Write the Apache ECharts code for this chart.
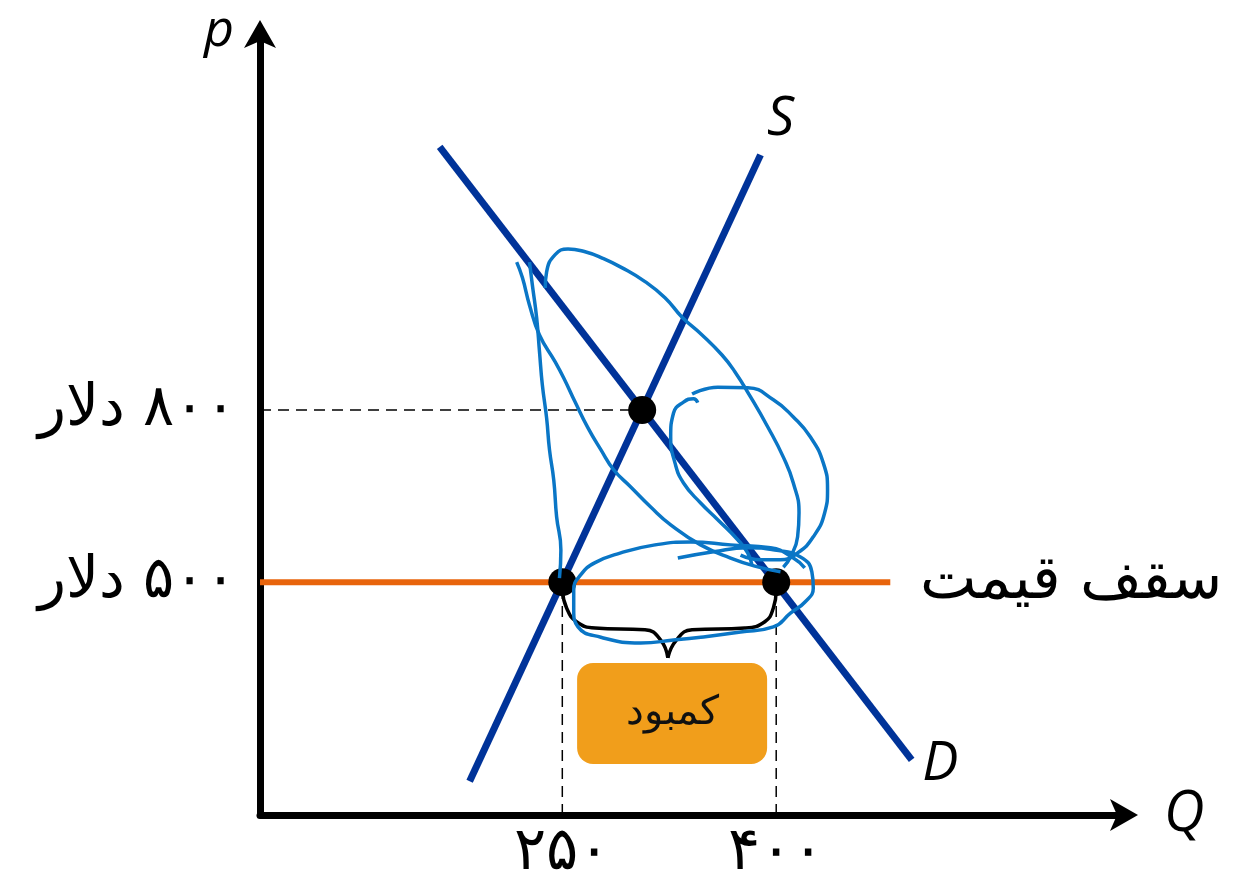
<!DOCTYPE html>
<html>
<head>
<meta charset="utf-8">
<title>سقف قیمت</title>
<script src="https://cdn.jsdelivr.net/npm/echarts@6/dist/echarts.min.js"></script>
<style>
html, body { margin: 0; padding: 0; background: #fff; }
#chart { width: 1235px; height: 873px; }
</style>
</head>
<body>
<div id="chart"></div>
<script>
// axis ranges: Q (horizontal) and P (vertical)
var qRange = [38, 646];
var pRange = [94, 1461];

// tick labels
var qTicks = [250, 400];
var qTickLabels = ['۲۵۰', '۴۰۰'];
var pTicks = [500, 800];
var pTickLabels = ['۵۰۰ دلار', '۸۰۰ دلار'];

// supply / demand curves and the price ceiling
var supply = [[185, 153], [389, 1245]];
var demand = [[164, 1259], [495, 190]];
var ceiling = [[38, 500], [480, 500]];
var ceilingName = 'سقف قیمت';
var equilibrium = [306, 800];
var ceilingPoints = [[250, 500], [400, 500]];

// curve names
var curveNames = ['S', 'D'];
var curveNamePos = [[403, 1306], [515, 181]];

// shortage brace and box
var braceLeft = [[250, 486], [253, 455], [260, 431], [273, 420], [308, 417], [319, 399], [324, 368]];
var braceRight = [[324, 368], [330, 399], [341, 417], [378, 420], [392, 431], [398, 455], [400, 486]];
var shortageName = 'کمبود';
var shortagePos = [327, 271];

// hand drawn scribble, one array per stroke
var stroke1 = [[227, 1058], [229, 1018], [232, 961], [234, 902], [236, 844], [239, 786], [241, 731], [244, 678], [246, 614], [249, 556], [248, 507]];
var stroke2 = [[218, 1058], [222, 1031], [227, 983], [234, 931], [245, 884], [251, 856], [259, 814], [268, 769], [277, 731], [286, 696], [298, 666], [312, 631], [326, 600], [347, 565], [368, 542], [385, 528], [403, 518]];
var stroke3 = [[238, 1013], [239, 1041], [245, 1071], [254, 1081], [266, 1076], [278, 1065], [292, 1048], [308, 1024], [322, 996], [334, 962], [348, 931], [362, 896], [371, 867], [382, 823], [394, 771], [405, 718], [412, 673], [416, 621], [415, 579], [410, 544], [405, 526]];
var stroke4 = [[341, 828], [359, 840], [380, 839], [398, 818], [412, 788], [424, 753], [433, 708], [436, 661], [434, 621], [426, 579], [415, 551], [403, 539], [389, 539], [375, 547]];
var stroke5 = [[345, 813], [342, 820], [335, 814], [328, 795], [326, 753], [329, 708], [335, 673], [347, 638], [359, 609], [373, 574], [380, 551], [383, 530]];
var stroke6 = [[331, 542], [356, 553], [380, 560], [399, 556], [417, 544], [425, 518], [426, 490], [420, 465], [410, 446], [398, 422], [375, 413], [347, 404], [328, 399], [305, 394], [277, 404], [261, 422], [258, 452], [258, 486], [263, 513], [273, 534], [291, 551], [315, 565], [340, 570], [368, 565], [396, 560], [412, 542], [420, 525]];

var textFont = "'DejaVu Sans', sans-serif";
var letterFont = "'Open Sans', 'DejaVu Sans', sans-serif";

function plainLine(data, color, width, extra) {
    var s = {
        type: 'line',
        data: data,
        showSymbol: false,
        silent: true,
        lineStyle: { color: color, width: width },
        z: 2
    };
    for (var k in extra) s[k] = extra[k];
    return s;
}

var chart = echarts.init(document.getElementById('chart'));

var dashed = { color: '#000', width: 1.5, type: [11, 7] };
var series = [];
// dashed guide lines
series.push(plainLine([[qRange[0], equilibrium[1]], equilibrium], '#000', 1.5, { lineStyle: dashed }));
ceilingPoints.forEach(function (pt) {
    series.push(plainLine([[pt[0], pRange[0]], pt], '#000', 1.5, { lineStyle: dashed }));
});
// supply and demand
series.push(plainLine(supply, '#003399', 7, { z: 3 }));
series.push(plainLine(demand, '#003399', 7, { z: 3 }));
// price ceiling
series.push(plainLine(ceiling, '#E8640C', 6, {
    z: 4,
    endLabel: {
        show: true,
        formatter: ceilingName,
        distance: 30,
        fontFamily: textFont,
        fontWeight: 200,
        fontSize: 60,
        color: '#000'
    }
}));
// brace
series.push(plainLine(braceLeft, '#000', 3.5, { smooth: 0.5, z: 4 }));
series.push(plainLine(braceRight, '#000', 3.5, { smooth: 0.5, z: 4 }));
// points
series.push({
    type: 'scatter',
    data: [equilibrium].concat(ceilingPoints),
    symbolSize: 28,
    itemStyle: { color: '#000', opacity: 1 },
    silent: true,
    z: 6
});
// shortage box
series.push({
    type: 'scatter',
    data: [shortagePos],
    symbolSize: 2,
    itemStyle: { color: '#F19E1B', opacity: 1 },
    silent: true,
    z: 5,
    label: {
        show: true,
        position: 'inside',
        formatter: shortageName,
        backgroundColor: '#F19E1B',
        borderRadius: 16,
        width: 190,
        height: 101,
        lineHeight: 101,
        align: 'center',
        verticalAlign: 'middle',
        fontFamily: textFont,
        fontWeight: 200,
        fontSize: 40,
        color: '#111'
    }
});
// S and D names
series.push({
    type: 'scatter',
    data: curveNamePos.map(function (p, i) { return { value: p, name: curveNames[i] }; }),
    symbolSize: 0,
    itemStyle: { color: '#000', opacity: 1 },
    silent: true,
    label: {
        show: true,
        position: 'inside',
        formatter: '{b}',
        fontFamily: letterFont,
        fontStyle: 'italic',
        fontWeight: 400,
        fontSize: 54,
        color: '#000'
    }
});
// scribble
[stroke1, stroke2, stroke3, stroke4, stroke5, stroke6].forEach(function (s) {
    series.push(plainLine(s, '#0A76C6', 3.5, { smooth: 0.5, z: 8 }));
});

var axisLine = {
    onZero: false,
    lineStyle: { color: '#000', width: 7 },
    symbol: ['none', 'arrow'],
    symbolSize: [24, 28],
    symbolOffset: [0, 11]
};

chart.setOption({
    animation: false,
    backgroundColor: '#fff',
    grid: { left: 260, right: 108, top: 31, bottom: 58, containLabel: false, outerBoundsMode: 'none' },
    xAxis: {
        type: 'value',
        min: qRange[0],
        max: qRange[1],
        name: 'Q',
        nameLocation: 'end',
        nameGap: 37,
        nameTextStyle: { fontFamily: letterFont, fontStyle: 'italic', fontWeight: 400, fontSize: 56, color: '#000', align: 'left', verticalAlign: 'middle' },
        splitLine: { show: false },
        axisTick: { show: false },
        axisLine: axisLine,
        axisLabel: {
            customValues: qTicks,
            formatter: function (v) { return qTickLabels[qTicks.indexOf(v)]; },
            margin: 8,
            fontFamily: textFont,
            fontWeight: 200,
            fontSize: 60,
            color: '#000'
        }
    },
    yAxis: {
        type: 'value',
        min: pRange[0],
        max: pRange[1],
        name: 'p',
        nameLocation: 'end',
        nameGap: 0,
        nameTextStyle: { fontFamily: letterFont, fontStyle: 'italic', fontWeight: 400, fontSize: 52, color: '#000', align: 'right', verticalAlign: 'middle', padding: [0, 26, 0, 0] },
        splitLine: { show: false },
        axisTick: { show: false },
        axisLine: axisLine,
        axisLabel: {
            customValues: pTicks,
            formatter: function (v) { return '\u202B' + pTickLabels[pTicks.indexOf(v)] + '\u202C'; },
            margin: 24,
            fontFamily: textFont,
            fontWeight: 200,
            fontSize: 58,
            color: '#000'
        }
    },
    series: series
});
</script>
</body>
</html>
